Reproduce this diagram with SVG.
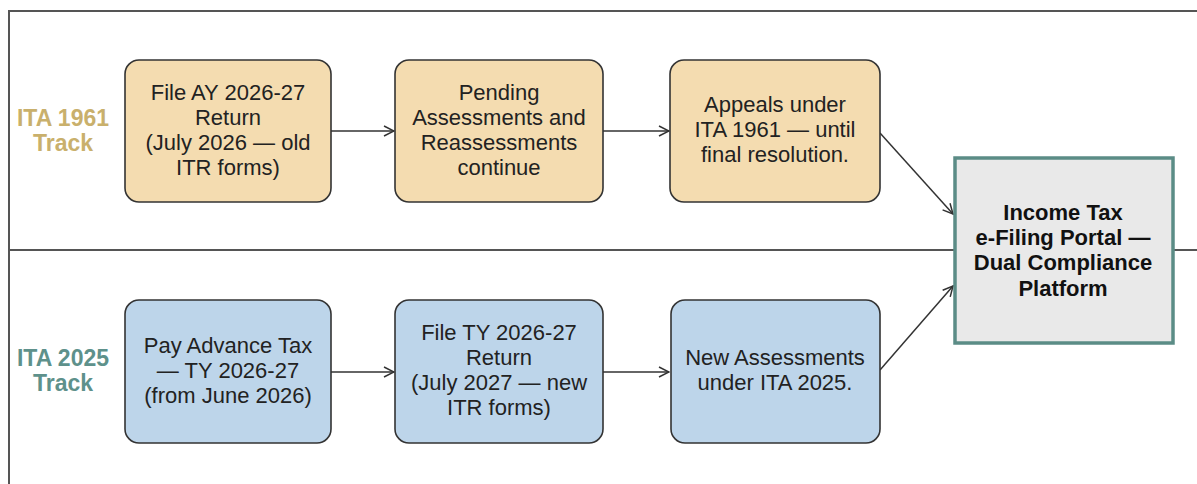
<svg xmlns="http://www.w3.org/2000/svg" width="1197" height="484" viewBox="0 0 1197 484">
<defs>
<style>
.frame{stroke:#555;stroke-width:2;fill:none}
.old{fill:#f4dcb0;stroke:#333;stroke-width:1.6}
.new{fill:#bdd5ea;stroke:#333;stroke-width:1.6}
.portal{fill:#e9e9e9;stroke:#5b8c86;stroke-width:3.5}
.t{font-family:"Liberation Sans",Arial,sans-serif;font-size:22px;fill:#222;text-anchor:middle}
.pt{font-family:"Liberation Sans",Arial,sans-serif;font-size:22px;font-weight:bold;fill:#111;text-anchor:middle}
.lab{font-family:"Liberation Sans",Arial,sans-serif;font-size:23px;font-weight:bold;text-anchor:middle}
.conn{stroke:#333;stroke-width:1.5;fill:none}
</style>
<marker id="arr" viewBox="0 0 12 12" refX="11" refY="6" markerWidth="12" markerHeight="12" markerUnits="userSpaceOnUse" orient="auto">
<path d="M1,1 L11,6 L1,11" fill="none" stroke="#333" stroke-width="1.5"/>
</marker>
</defs>
<rect width="1197" height="484" fill="#fff"/>
<g id="frame">
<path class="frame" d="M9,484 V11 H1197"/>
<line class="frame" x1="9" y1="250" x2="1197" y2="250"/>
</g>
<g id="lane-labels">
<text class="lab" fill="#c9b06c" x="63" y="126">ITA 1961</text>
<text class="lab" fill="#c9b06c" x="63" y="151">Track</text>
<text class="lab" fill="#5e918b" x="63" y="366">ITA 2025</text>
<text class="lab" fill="#5e918b" x="63" y="391">Track</text>
</g>
<g id="connectors">
<line class="conn" x1="331" y1="131" x2="394" y2="131" marker-end="url(#arr)"/>
<line class="conn" x1="603" y1="131" x2="669" y2="131" marker-end="url(#arr)"/>
<line class="conn" x1="880" y1="133" x2="953" y2="214" marker-end="url(#arr)"/>
<line class="conn" x1="331" y1="372" x2="394" y2="372" marker-end="url(#arr)"/>
<line class="conn" x1="603" y1="372" x2="669" y2="372" marker-end="url(#arr)"/>
<line class="conn" x1="880" y1="370" x2="953" y2="286" marker-end="url(#arr)"/>
</g>
<g id="n1">
<rect class="old" x="125" y="60" width="206" height="142" rx="14"/>
<text class="t" x="228" y="100">File AY 2026-27</text>
<text class="t" x="228" y="125">Return</text>
<text class="t" x="228" y="150">(July 2026 — old</text>
<text class="t" x="228" y="175">ITR forms)</text>
</g>
<g id="n2">
<rect class="old" x="395" y="60" width="208" height="142" rx="14"/>
<text class="t" x="499" y="100">Pending</text>
<text class="t" x="499" y="125">Assessments and</text>
<text class="t" x="499" y="150">Reassessments</text>
<text class="t" x="499" y="175">continue</text>
</g>
<g id="n3">
<rect class="old" x="670" y="60" width="210" height="142" rx="14"/>
<text class="t" x="775" y="112">Appeals under</text>
<text class="t" x="775" y="137">ITA 1961 — until</text>
<text class="t" x="775" y="162">final resolution.</text>
</g>
<g id="n4">
<rect class="new" x="125" y="300" width="206" height="143" rx="14"/>
<text class="t" x="228" y="353">Pay Advance Tax</text>
<text class="t" x="228" y="378">— TY 2026-27</text>
<text class="t" x="228" y="403">(from June 2026)</text>
</g>
<g id="n5">
<rect class="new" x="395" y="300" width="208" height="143" rx="14"/>
<text class="t" x="499" y="340">File TY 2026-27</text>
<text class="t" x="499" y="365">Return</text>
<text class="t" x="499" y="390">(July 2027 — new</text>
<text class="t" x="499" y="415">ITR forms)</text>
</g>
<g id="n6">
<rect class="new" x="671" y="300" width="209" height="143" rx="14"/>
<text class="t" x="775" y="365">New Assessments</text>
<text class="t" x="775" y="390">under ITA 2025.</text>
</g>
<g id="portal">
<rect class="portal" x="955" y="158" width="218" height="185"/>
<text class="pt" x="1063" y="220">Income Tax</text>
<text class="pt" x="1063" y="245">e-Filing Portal —</text>
<text class="pt" x="1063" y="270">Dual Compliance</text>
<text class="pt" x="1063" y="296">Platform</text>
</g>
</svg>
